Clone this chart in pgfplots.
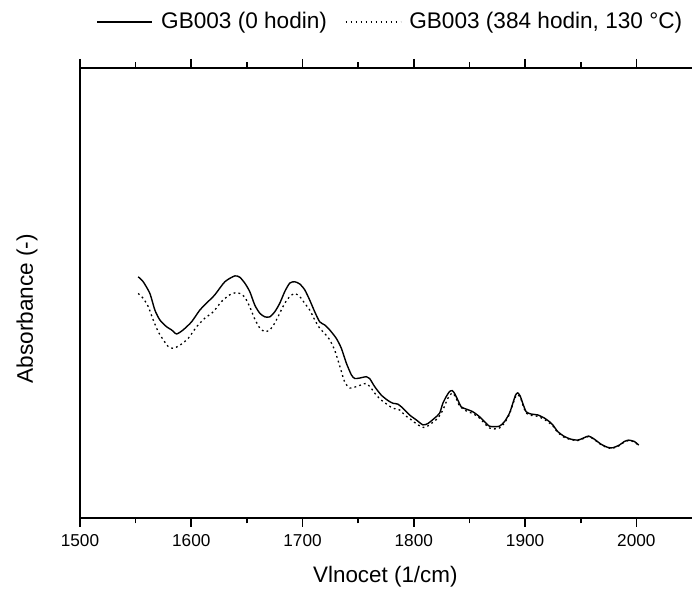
\documentclass[border=0pt]{standalone}
\usepackage{fontspec}
\setmainfont{Liberation Sans}
\usepackage{pgfplots}
\pgfplotsset{compat=1.18}
\begin{document}
\begin{tikzpicture}
\useasboundingbox (-40pt,-35.5pt) rectangle (306.5pt,259pt);
\begin{axis}[
  scale only axis,
  width=306pt, height=225pt,
  xmin=1500, xmax=2050, ymin=0, ymax=1,
  axis x line=box, axis y line*=left,
  axis line style={-, line width=1pt},
  xtick={1500,1600,1700,1800,1900,2000},
  minor x tick num=1,
  xticklabel pos=bottom,
  ytick=\empty,
  tick align=outside,
  major tick length=4.5pt, minor tick length=2.75pt,
  every tick/.style={black, line width=0.8pt},
  /pgf/number format/assume math mode=true,
  /pgf/number format/set thousands separator={},
  ticklabel style={font=\fontsize{8.6}{10}\selectfont},
  xlabel={Vlnocet (1/cm)},
  ylabel={Absorbance (-)},
  every axis x label/.style={at={(axis description cs:0.499,-0.131)}, anchor=center, font=\fontsize{11.2}{13}\selectfont},
  every axis y label/.style={at={(axis description cs:-0.0866,0.465)}, anchor=center, rotate=90, font=\fontsize{11.3}{13}\selectfont},
  legend columns=2,
  legend style={at={(axis description cs:0.509,1.102)}, anchor=center, draw=none, fill=none,
    font=\fontsize{11.3}{13}\selectfont, /tikz/every even column/.append style={column sep=7pt}},
  legend image code/.code={\draw[#1] (0pt,0pt) -- (27.5pt,0pt); \path (29.5pt,0pt);},
  legend cell align=left,
]
\addplot[black, line width=0.7pt, smooth, tension=0.4] coordinates {
(1552.3,0.536) (1556.8,0.525) (1562.8,0.499) (1567.3,0.462) (1571.8,0.440)
(1577.8,0.425) (1582.3,0.418) (1586.8,0.409) (1592.7,0.418) (1600.3,0.436)
(1607.7,0.462) (1615.2,0.481) (1621.2,0.496) (1630.2,0.525) (1639.1,0.538)
(1643.6,0.535) (1648.1,0.522) (1652.6,0.503) (1657.1,0.473) (1661.6,0.455)
(1666.1,0.447) (1670.6,0.447) (1675.0,0.458) (1679.5,0.477) (1684.0,0.503)
(1688.5,0.522) (1693.0,0.525) (1697.5,0.520) (1702.0,0.507) (1706.5,0.484)
(1711.0,0.458) (1715.4,0.436) (1719.9,0.429) (1724.4,0.418) (1730.4,0.399)
(1734.9,0.377) (1739.4,0.344) (1743.9,0.318) (1746.9,0.310) (1751.3,0.311)
(1757.4,0.314) (1760.3,0.310) (1764.8,0.292) (1770.8,0.273) (1776.8,0.261)
(1781.2,0.255) (1785.7,0.253) (1790.2,0.244) (1796.2,0.229) (1802.2,0.218)
(1808.2,0.207) (1812.7,0.210) (1818.7,0.222) (1823.2,0.233) (1826.1,0.255)
(1829.2,0.270) (1832.1,0.281) (1834.6,0.283) (1836.6,0.277) (1839.6,0.262)
(1842.6,0.247) (1847.1,0.242) (1853.1,0.236) (1859.1,0.225) (1863.6,0.214)
(1868.0,0.204) (1872.5,0.203) (1877.0,0.204) (1881.5,0.214) (1886.0,0.233)
(1889.0,0.255) (1891.4,0.273) (1893.4,0.278) (1895.6,0.271) (1897.9,0.255)
(1901.0,0.236) (1905.5,0.231) (1911.4,0.229) (1917.4,0.222) (1921.9,0.214)
(1924.9,0.207) (1929.4,0.192) (1935.4,0.181) (1941.4,0.175) (1947.3,0.173)
(1951.8,0.177) (1957.2,0.182) (1962.3,0.175) (1968.3,0.164) (1974.2,0.157)
(1978.7,0.156) (1984.7,0.162) (1989.2,0.170) (1993.1,0.173) (1998.2,0.170)
(2002.1,0.162)
};
\addlegendentry{GB003 (0 hodin)}
\addplot[black, line width=0.65pt, dash pattern=on 0.9pt off 1.6pt, smooth, tension=0.4] coordinates {
(1552.3,0.499) (1556.8,0.488) (1561.3,0.470) (1565.8,0.440) (1570.3,0.414)
(1574.8,0.396) (1579.3,0.381) (1583.8,0.377) (1589.8,0.384) (1597.2,0.399)
(1604.8,0.425) (1612.2,0.444) (1619.7,0.458) (1627.2,0.481) (1634.6,0.496)
(1640.7,0.501) (1643.6,0.499) (1648.1,0.491) (1652.6,0.469) (1657.1,0.442)
(1661.6,0.422) (1666.1,0.414) (1670.6,0.418) (1675.0,0.433) (1679.5,0.455)
(1684.0,0.477) (1688.5,0.492) (1693.0,0.499) (1697.5,0.492) (1702.0,0.477)
(1706.5,0.462) (1711.0,0.440) (1715.4,0.422) (1719.9,0.410) (1724.4,0.396)
(1728.9,0.373) (1733.4,0.338) (1737.9,0.302) (1742.4,0.289) (1748.4,0.292)
(1752.9,0.296) (1757.4,0.299) (1761.8,0.288) (1766.3,0.273) (1770.8,0.262)
(1776.8,0.251) (1781.2,0.244) (1787.3,0.240) (1791.7,0.229) (1797.8,0.218)
(1803.7,0.207) (1809.7,0.201) (1815.7,0.210) (1821.6,0.222) (1826.1,0.240)
(1830.6,0.266) (1834.6,0.278) (1837.5,0.269) (1841.1,0.249) (1847.1,0.238)
(1853.1,0.232) (1859.1,0.222) (1863.6,0.210) (1868.0,0.200) (1872.5,0.198)
(1877.0,0.200) (1881.5,0.211) (1886.0,0.231) (1889.0,0.253) (1891.4,0.269)
(1893.4,0.274) (1895.9,0.267) (1897.9,0.252) (1901.0,0.233) (1905.5,0.228)
(1911.4,0.226) (1917.4,0.219) (1921.9,0.211) (1924.9,0.205) (1929.4,0.190)
(1935.4,0.179) (1941.4,0.174) (1947.3,0.172) (1951.8,0.176) (1957.2,0.181)
(1962.3,0.174) (1968.3,0.163) (1974.2,0.156) (1978.7,0.155) (1984.7,0.161)
(1989.2,0.169) (1993.1,0.172) (1998.2,0.169) (2002.1,0.161)
};
\addlegendentry{GB003 (384 hodin, 130 °C)}
\end{axis}
\end{tikzpicture}
\end{document}
